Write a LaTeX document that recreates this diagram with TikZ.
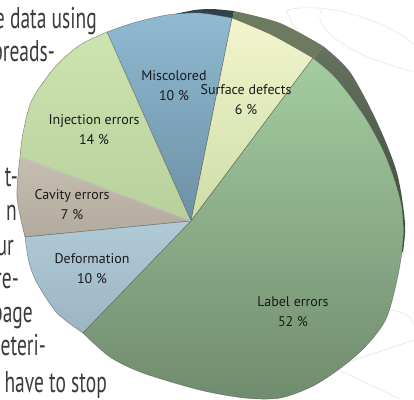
\documentclass[tikz,border=0pt]{standalone}
\usepackage{fontspec}
\setmainfont{PT Sans}
\newfontfamily\bodyfont[FakeStretch=0.65]{PT Sans}
\definecolor{bodytext}{HTML}{3C3C3C}
\definecolor{labeltext}{HTML}{1A1A1A}
\definecolor{edgec}{HTML}{4A5048}
\definecolor{faint}{HTML}{E4E4E4}
\definecolor{misTop}{HTML}{8FBAD2}
\definecolor{misBot}{HTML}{6D90A4}
\definecolor{surTop}{HTML}{F3F4CE}
\definecolor{surBot}{HTML}{CCDEA6}
\definecolor{injTop}{HTML}{CDE4B0}
\definecolor{injBot}{HTML}{B8D09C}
\definecolor{cavTop}{HTML}{C6BEB0}
\definecolor{cavBot}{HTML}{B2AA9C}
\definecolor{defTop}{HTML}{B1CAD8}
\definecolor{defBot}{HTML}{9CB5C2}
\definecolor{labTop}{HTML}{A4CCA0}
\definecolor{labBot}{HTML}{708C6E}
\definecolor{sideMis}{HTML}{2F414B}
\definecolor{sideSur}{HTML}{6C7A60}
\definecolor{sideLab}{HTML}{4A5A45}
\begin{document}
\begin{tikzpicture}[x=1pt,y=-1pt,
  lbl/.style={font=\fontsize{14}{20}\selectfont, align=center, text=labeltext, inner sep=0pt},
  bodyline/.style={font=\bodyfont\fontsize{30}{34}\selectfont, text=bodytext, anchor=base east, inner sep=0pt},
  face/.style={draw=edgec, draw opacity=0.6, line width=0.5pt, line join=round},
  deco/.style={draw=faint, line width=0.5pt}]
\useasboundingbox (0,0) rectangle (414,399);
\clip (0,0) rectangle (414,399);
\fill[white] (0,0) rectangle (414,399);

% faint decorative outlines
\draw[deco] (287,10) .. controls (330,0) and (395,25) .. (414,45);
\draw[deco] (322,10) .. controls (312,22) and (335,52) .. (414,72);
\draw[deco] (287,10) .. controls (289,22) and (298,32) .. (306,38);
\draw[deco] (372,313) .. controls (395,307) and (410,312) .. (414,325);
\draw[deco] (414,340) -- (345,363);
\draw[deco] (335,368) -- (400,399);

% body text (cut off at the left)
\node[bodyline] (t1) at (97,28) {e data using};
\node[bodyline] (t2) at (55,61) {preads-};
\node[bodyline] (t3) at (18,186) {t-};
\node[bodyline] (t4) at (17,220) {n};
\node[bodyline] (t5) at (14,255) {ur};
\node[bodyline] (t6) at (19,288) {re-};
\node[bodyline] (t7) at (33,322) {page};
\node[bodyline] (t8) at (46,355) {meteri-};
\node[bodyline] (t9) at (107,392) {have to stop};

\coordinate (C) at (191,221);

% dark sides (3D rim)
\fill[sideMis] (C) -- (175,14) -- plot[smooth] coordinates {(175,14) (195,10) (212,9) (234,11)} -- cycle;
\fill[sideSur] (C) -- (234,11) -- plot[smooth] coordinates {(234,11) (280,23) (323,46)} -- cycle;
\shade[top color=sideLab!85!white, bottom color=sideLab!80!black] (C) -- (323,46) -- plot[smooth] coordinates {(323,46) (350,72) (377,122) (397,173) (405,223) (403,252)} -- cycle;

% faces
\shade[face, top color=misTop, bottom color=misBot] (C) -- (107,32) -- plot[smooth] coordinates {(107,32) (133,23) (167,15) (200,13) (232,18)} -- cycle;
\shade[face, top color=surTop, bottom color=surBot] (C) -- (232,18) -- plot[smooth] coordinates {(232,18) (272,35) (313,58)} -- cycle;
\shade[face, top color=injTop, bottom color=injBot] (C) -- (20,157) -- plot[smooth] coordinates {(20,157) (23,133) (32,100) (55,67) (80,45) (107,32)} -- cycle;
\shade[face, top color=cavTop, bottom color=cavBot] (C) -- (25,237) -- plot[smooth] coordinates {(25,237) (17,197) (20,157)} -- cycle;
\shade[face, top color=defTop, bottom color=defBot] (C) -- (83,333) -- plot[smooth] coordinates {(83,333) (57,313) (37,283) (29,262) (25,237)} -- cycle;
\shade[face, top color=labTop, bottom color=labBot] (C) -- (83,333) -- plot[smooth] coordinates {(83,333) (110,357) (143,373) (200,390) (245,398) (280,398) (313,386) (342,367) (366,346) (386,319) (397,280) (403,242) (402,208) (394,178) (383,150) (368,122) (351,97) (333,75) (313,58)} -- cycle;
\draw[white, opacity=0.7, line width=0.6pt] (C) -- (20,157);

% labels
\node[lbl] (mis) at (174,86) {Miscolored\\10 \%};
\node[lbl] (sur) at (246,100) {Surface defects\\6 \%};
\node[lbl] (inj) at (94,130) {Injection errors\\14 \%};
\node[lbl] (cav) at (72,205) {Cavity errors\\7 \%};
\node[lbl] (def) at (92,269) {Deformation\\10 \%};
\node[lbl] (lab) at (293,312) {Label errors\\52 \%};
\end{tikzpicture}
\end{document}
